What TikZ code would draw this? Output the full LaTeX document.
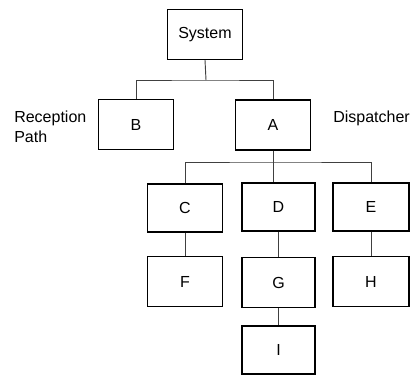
\documentclass[tikz,border=0pt]{standalone}
\usepackage{fontspec}
\setmainfont{Liberation Sans}
\tikzset{
  treebox/.style={draw, line width=0.8pt, minimum width=56pt, minimum height=37.5pt, inner sep=0.75pt, font=\fontsize{12}{14}\selectfont},
  treelink/.style={line width=0.7pt, draw=black!75},
  sidelabel/.style={anchor=west, inner sep=0.75pt, align=left, font=\fontsize{12}{15}\selectfont}
}
\begin{document}
\begin{tikzpicture}[x=0.75pt,y=0.75pt,yscale=-1,xscale=1]
        \useasboundingbox (0,0) rectangle (412,375);

        % Boxes
        \node [treebox] (sys) at (205,34.5) {System};
        \node [treebox] (b) at (136,124.5) {B};
        \node [treebox] (a) at (273,125) {A};
        \node [treebox, minimum height=36pt] (c) at (185,208) {C};
        \node [treebox, minimum height=36pt, minimum width=54.75pt] (d) at (278.5,207) {D};
        \node [treebox, minimum height=36pt, minimum width=57pt] (e) at (371,207) {E};
        \node [treebox, minimum height=38pt] (f) at (185,281.5) {F};
        \node [treebox, minimum width=54.75pt] (g) at (278.5,282.5) {G};
        \node [treebox, minimum height=38pt, minimum width=57pt] (h) at (371,281.5) {H};
        \node [treebox, minimum height=36pt, minimum width=54.75pt] (i) at (278.5,350) {I};

        % Side labels
        \node [sidelabel] (recep) at (13,127) {Reception\\Path};
        \node [sidelabel] (disp) at (332,118) {Dispatcher};

        % Junctions
        \coordinate (j1) at (206,80);
        \coordinate (j2) at (273,162);

        % Connectors
        \draw [treelink] (sys.south) -- (j1);
        \draw [treelink] (b.north) |- (j1) -| (a.north);
        \draw [treelink] (a.south) -- (j2);
        \draw [treelink] (c.north) |- (j2) -| (e.north);
        \draw [treelink] (j2) -- (j2 |- d.north);
        \draw [treelink] (c) -- (f);
        \draw [treelink] (d) -- (g);
        \draw [treelink] (e) -- (h);
        \draw [treelink] (g) -- (i);
\end{tikzpicture}
\end{document}
